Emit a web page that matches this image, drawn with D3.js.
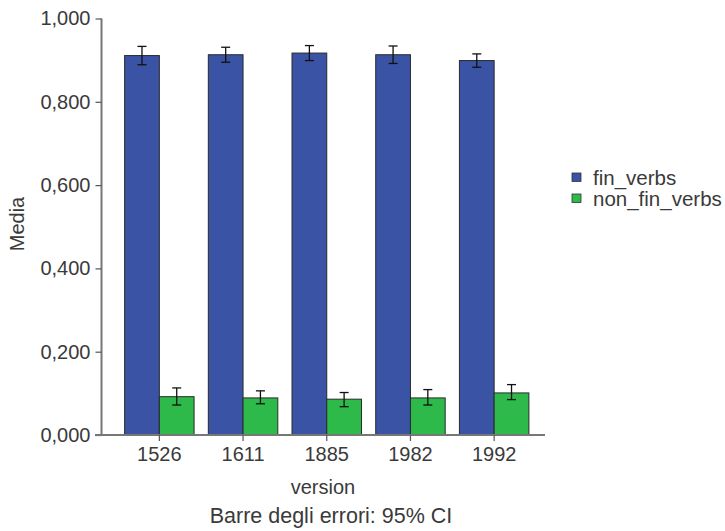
<!DOCTYPE html>
<html>
<head>
<meta charset="utf-8">
<script src="https://cdn.jsdelivr.net/npm/d3@7/dist/d3.min.js"></script>
<style>
  html, body { margin: 0; padding: 0; background: #fff; }
  svg text { font-family: "Liberation Sans", Arial, sans-serif; fill: #3a3a3a; }
</style>
</head>
<body>
<svg id="chart" width="725" height="531"></svg>
<script>
// Versions on the x axis
const versions = ["1526", "1611", "1885", "1982", "1992"];
// Series names
const seriesNames = ["fin_verbs", "non_fin_verbs"];
// Mean values per version
const finVerbs = [0.911, 0.913, 0.917, 0.913, 0.899];
const nonFinVerbs = [0.092, 0.089, 0.086, 0.089, 0.101];
// 95% CI bounds
const finLow = [0.889, 0.895, 0.899, 0.892, 0.883];
const finHigh = [0.933, 0.931, 0.935, 0.934, 0.915];
const nonFinLow = [0.072, 0.075, 0.068, 0.072, 0.085];
const nonFinHigh = [0.113, 0.106, 0.102, 0.109, 0.121];
// Y tick values
const yTicks = [0, 0.2, 0.4, 0.6, 0.8, 1.0];

const colors = { fin_verbs: "#3a53a5", non_fin_verbs: "#2eb94b" };
const FONT = "'Liberation Sans', Arial, sans-serif";

const svg = d3.select("#chart");

const y = d3.scaleLinear().domain([0, 1]).range([435, 18.5]);
const x0 = d3.scaleBand().domain(versions).range([117.5, 536]).paddingInner(0.17).paddingOuter(0.085);
const x1 = d3.scaleBand().domain(seriesNames).range([0, x0.bandwidth()]);

const rows = versions.map((v, i) => ({
  version: v,
  items: [
    { key: "fin_verbs", value: finVerbs[i], lo: finLow[i], hi: finHigh[i] },
    { key: "non_fin_verbs", value: nonFinVerbs[i], lo: nonFinLow[i], hi: nonFinHigh[i] }
  ]
}));

const fmt = v => d3.format(".3f")(v).replace(".", ",");

// Y axis
const yAxis = svg.append("g")
  .attr("transform", "translate(101.5,0)")
  .call(d3.axisLeft(y).tickValues(yTicks).tickFormat(fmt).tickSize(6).tickPadding(5));
yAxis.select(".domain").attr("stroke", "#777").attr("stroke-width", 2).attr("d", "M0,18.5V435");
yAxis.selectAll(".tick line").attr("stroke", "#555").attr("stroke-width", 1.2);
yAxis.selectAll(".tick text").attr("font-size", 20).attr("fill", "#3a3a3a")
  .style("font-family", FONT);

// Groups of bars
const groups = svg.append("g").selectAll("g")
  .data(rows).join("g")
  .attr("transform", d => `translate(${x0(d.version)},0)`);

groups.selectAll("rect")
  .data(d => d.items).join("rect")
  .attr("x", d => x1(d.key))
  .attr("y", d => y(d.value))
  .attr("width", x1.bandwidth())
  .attr("height", d => y(0) - y(d.value))
  .attr("fill", d => colors[d.key])
  .attr("stroke", "#2a2a2a")
  .attr("stroke-width", 1);

// Error bars
const eb = groups.selectAll("g.err")
  .data(d => d.items).join("g").attr("class", "err");
eb.append("line")
  .attr("x1", d => x1(d.key) + x1.bandwidth() / 2)
  .attr("x2", d => x1(d.key) + x1.bandwidth() / 2)
  .attr("y1", d => y(d.lo)).attr("y2", d => y(d.hi))
  .attr("stroke", "#111").attr("stroke-width", 1.3);
[ "lo", "hi" ].forEach(k => {
  eb.append("line")
    .attr("x1", d => x1(d.key) + x1.bandwidth() / 2 - 4.5)
    .attr("x2", d => x1(d.key) + x1.bandwidth() / 2 + 4.5)
    .attr("y1", d => y(d[k])).attr("y2", d => y(d[k]))
    .attr("stroke", "#111").attr("stroke-width", 1.3);
});

// X axis
const xAxis = svg.append("g")
  .attr("transform", "translate(0,435)")
  .call(d3.axisBottom(x0).tickSize(6).tickPadding(6).tickSizeOuter(0));
xAxis.select(".domain").attr("stroke", "#777").attr("stroke-width", 2).attr("d", "M95,0H545");
xAxis.selectAll(".tick line").attr("stroke", "#555").attr("stroke-width", 1.2);
xAxis.selectAll(".tick text").attr("font-size", 20).attr("fill", "#3a3a3a")
  .style("font-family", FONT);

// Axis titles
svg.append("text")
  .attr("transform", "translate(24,224) rotate(-90)")
  .attr("text-anchor", "middle")
  .attr("font-size", 20)
  .text("Media");

svg.append("text")
  .attr("x", 323).attr("y", 494)
  .attr("text-anchor", "middle")
  .attr("font-size", 20)
  .text("version");

svg.append("text")
  .attr("x", 331).attr("y", 523)
  .attr("text-anchor", "middle")
  .attr("font-size", 21.5)
  .text("Barre degli errori: 95% CI");

// Legend
const legend = svg.append("g").selectAll("g")
  .data(seriesNames).join("g")
  .attr("transform", (d, i) => `translate(572,${173 + i * 21})`);
legend.append("rect")
  .attr("width", 9).attr("height", 8.5)
  .attr("fill", d => colors[d])
  .attr("stroke", "#333").attr("stroke-width", 0.8);
legend.append("text")
  .attr("x", 21).attr("y", 12)
  .attr("font-size", 20.5)
  .text(d => d);
</script>
</body>
</html>
